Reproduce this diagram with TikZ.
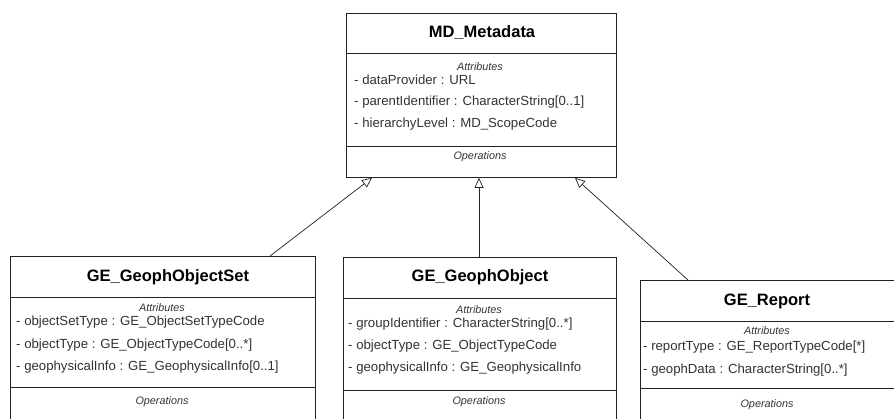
\documentclass[tikz,border=0pt]{standalone}
\usepackage{fontspec}
\setmainfont{Liberation Sans}
\usetikzlibrary{arrows.meta}

\definecolor{linecol}{HTML}{222222}
\definecolor{txtcol}{HTML}{333333}

\tikzset{
  classbox/.style={draw=linecol, line width=0.8pt, fill=white, rectangle,
    inner sep=0pt, anchor=north west},
  divider/.style={draw=linecol, line width=0.8pt},
  classname/.style={font=\bfseries\fontsize{16.5}{18}\selectfont, text=black, inner sep=0pt},
  section/.style={font=\itshape\fontsize{10.8}{12}\selectfont, text=txtcol, inner sep=0pt},
  attr/.style={font=\fontsize{13.2}{15}\selectfont, text=txtcol, inner sep=0pt, anchor=west},
  generalization/.style={draw=linecol, line width=0.7pt,
    -{Triangle[open, length=10pt, width=9pt]}},
}

\begin{document}
\begin{tikzpicture}[x=1pt, y=-1pt]
  \useasboundingbox (0,0) rectangle (894,418);
  \clip (0,0) rectangle (894,418);
  \fill[white] (0,0) rectangle (894,418);

  % MD_Metadata
  \node[classbox, minimum width=270pt, minimum height=164pt] (md) at (346,13) {};
  \draw[divider] (346,53) -- (616,53);
  \draw[divider] (346,146) -- (616,146);
  \node[classname] (mdname) at (482,33) {MD\_Metadata};
  \node[section] (mdattr) at (480,67) {Attributes};
  \node[attr] (mda1) at (354,80) {- dataProvider : URL};
  \node[attr] (mda2) at (354,102) {- parentIdentifier : CharacterString[0..1]};
  \node[attr] (mda3) at (354,124) {- hierarchyLevel : MD\_ScopeCode};
  \node[section] (mdops) at (480,157) {Operations};

  % GE_GeophObjectSet
  \node[classbox, minimum width=305pt, minimum height=200pt] (gos) at (10,256) {};
  \draw[divider] (10,297) -- (315,297);
  \draw[divider] (10,387) -- (315,387);
  \node[classname] (gosname) at (168,277) {GE\_GeophObjectSet};
  \node[section] (gosattr) at (162,308) {Attributes};
  \node[attr] (gosa1) at (16,322) {- objectSetType : GE\_ObjectSetTypeCode};
  \node[attr] (gosa2) at (16,345) {- objectType : GE\_ObjectTypeCode[0..*]};
  \node[attr] (gosa3) at (16,367) {- geophysicalInfo : GE\_GeophysicalInfo[0..1]};
  \node[section] (gosops) at (162,402) {Operations};

  % GE_GeophObject
  \node[classbox, minimum width=273pt, minimum height=200pt] (gob) at (343,257) {};
  \draw[divider] (343,298) -- (616,298);
  \draw[divider] (343,390) -- (616,390);
  \node[classname] (gobname) at (480,277) {GE\_GeophObject};
  \node[section] (gobattr) at (479,310) {Attributes};
  \node[attr] (goba1) at (348,324) {- groupIdentifier : CharacterString[0..*]};
  \node[attr] (goba2) at (348,346) {- objectType : GE\_ObjectTypeCode};
  \node[attr] (goba3) at (348,368) {- geophysicalInfo : GE\_GeophysicalInfo};
  \node[section] (gobops) at (479,402) {Operations};

  % GE_Report
  \node[classbox, minimum width=280pt, minimum height=200pt] (rep) at (640,280) {};
  \draw[divider] (640,321) -- (920,321);
  \draw[divider] (640,388) -- (920,388);
  \node[classname] (repname) at (767,301) {GE\_Report};
  \node[section] (repattr) at (767,331) {Attributes};
  \node[attr] (repa1) at (643,347) {- reportType : GE\_ReportTypeCode[*]};
  \node[attr] (repa2) at (643,370) {- geophData : CharacterString[0..*]};
  \node[section] (repops) at (767,405) {Operations};

  % generalizations
  \draw[generalization] ([xshift=260pt]gos.north west) -- ([xshift=26pt]md.south west);
  \draw[generalization] ([xshift=136pt]gob.north west) -- ([xshift=133pt]md.south west);
  \draw[generalization] ([xshift=48pt]rep.north west) -- ([xshift=229pt]md.south west);
\end{tikzpicture}
\end{document}
